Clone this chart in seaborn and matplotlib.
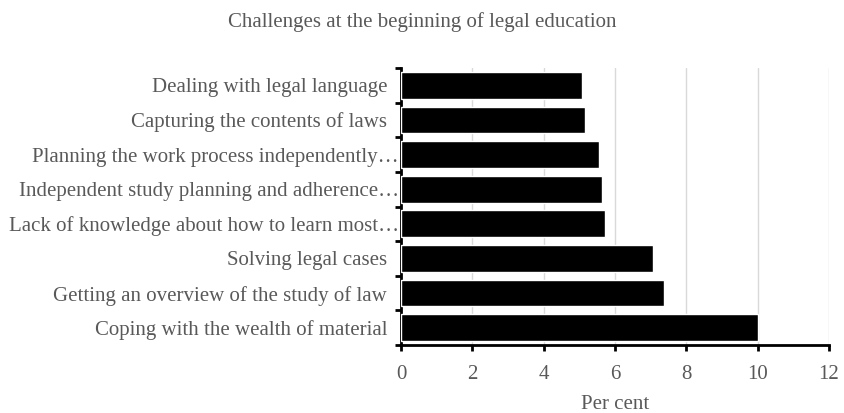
import matplotlib
matplotlib.use("Agg")
import matplotlib.pyplot as plt
import matplotlib.transforms as mtransforms
import seaborn as sns
import numpy as np
import pandas as pd

challenges = [
    "Dealing with legal language",
    "Capturing the contents of laws",
    "Planning the work process independently…",
    "Independent study planning and adherence…",
    "Lack of knowledge about how to learn most…",
    "Solving legal cases",
    "Getting an overview of the study of law",
    "Coping with the wealth of material",
]
per_cent = [5.07, 5.16, 5.55, 5.64, 5.73, 7.07, 7.38, 10.0]
x_ticks = [0, 2, 4, 6, 8, 10, 12]

df = pd.DataFrame({"challenge": challenges, "pct": per_cent})

sns.set_style("white")
plt.rcParams["font.family"] = ["Liberation Serif", "DejaVu Serif"]
grey = "#595959"

fig = plt.figure(figsize=(8.44, 4.13), dpi=100)
ax = fig.add_axes([401 / 844, 1 - 345 / 413, 428 / 844, 277 / 413])

sns.barplot(data=df, x="pct", y="challenge", orient="h", color="black",
            saturation=1, width=0.77, ax=ax, zorder=3)

ax.set_xlim(0, 12)
ax.set_ylim(7.5, -0.5)
ax.set_xticks(x_ticks)
ax.xaxis.grid(True, color="#d9d9d9", linewidth=1, zorder=0)
ax.set_axisbelow(True)

# category ticks between bars, labels centred
ax.set_yticks(np.arange(len(challenges)))
ax.set_yticks(np.arange(-0.5, len(challenges)), minor=True)
ax.tick_params(axis="y", which="major", left=False, length=0, pad=10,
               labelsize=15, labelcolor=grey)
ax.tick_params(axis="y", which="minor", left=True, length=4, width=2,
               color="black", direction="out")
ax.tick_params(axis="x", bottom=True, length=4, width=2, color="black",
               direction="out", labelsize=15, labelcolor=grey, pad=10.5)

# truncated labels run up to the axis, like the original
shift = mtransforms.ScaledTranslation(12 / 100, 0, fig.dpi_scale_trans)
for lab in ax.get_yticklabels():
    if lab.get_text().endswith("…"):
        lab.set_transform(lab.get_transform() + shift)

for side in ["top", "right"]:
    ax.spines[side].set_visible(False)
for side in ["left", "bottom"]:
    ax.spines[side].set_linewidth(2)
    ax.spines[side].set_color("black")

ax.set_ylabel("")
ax.set_xlabel("Per cent", color=grey, fontsize=15, labelpad=8)
fig.suptitle("Challenges at the beginning of legal education", x=0.5, y=0.97,
             color=grey, fontsize=15)

fig.savefig("out.png", dpi=100)
